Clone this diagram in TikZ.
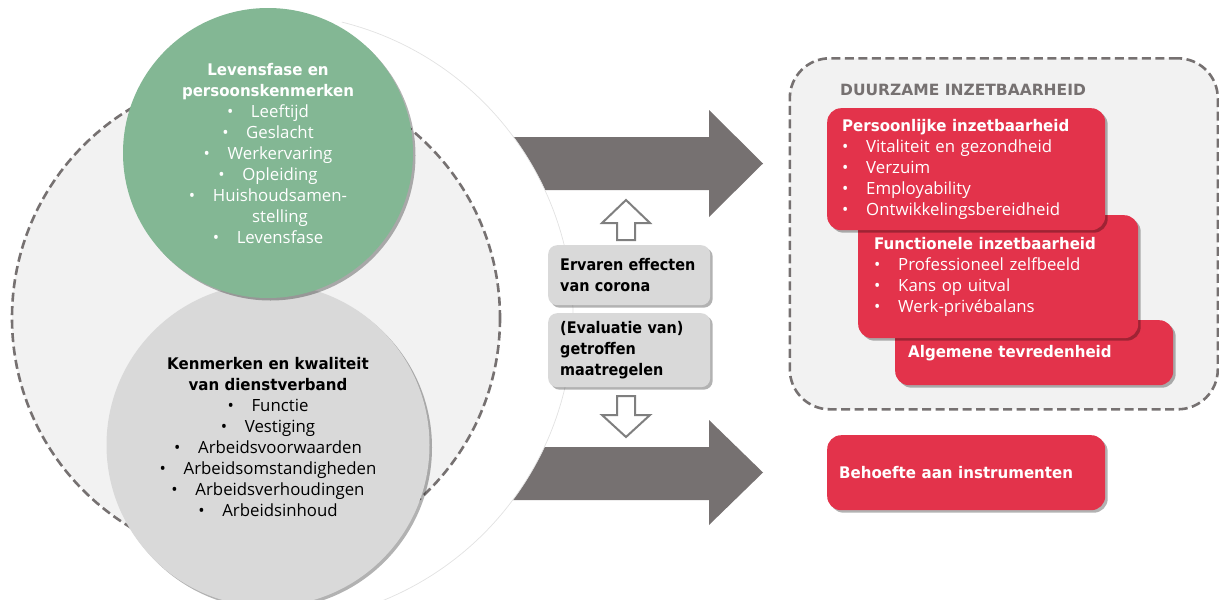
\documentclass[tikz,border=0pt]{standalone}
\usepackage{fontspec}
\setmainfont{Open Sans}
\newfontfamily\hfont{DejaVu Sans}[FakeStretch=0.94]
\newfontfamily\mfont{DejaVu Sans}[FakeStretch=0.9]
\newfontfamily\tfont{DejaVu Sans}
\usetikzlibrary{shadows}
\definecolor{arrowgray}{HTML}{767171}
\definecolor{dashgray}{HTML}{767171}
\definecolor{lightfill}{HTML}{F2F2F2}
\definecolor{midgray}{HTML}{D9D9D9}
\definecolor{greenc}{HTML}{83B794}
\definecolor{redc}{HTML}{E3334B}
\definecolor{faint}{HTML}{E2E2E2}
\definecolor{hollowgray}{HTML}{7F7F7F}
\definecolor{titlegray}{HTML}{767171}
\newcommand\itembul{\makebox[24pt][l]{\textbullet}}
\tikzset{
  softshadow/.style={drop shadow={opacity=0.3, shadow xshift=2.5pt, shadow yshift=-2.5pt, fill=black}},
  dashline/.style={draw=dashgray, line width=2.6pt, dash pattern=on 9pt off 4.5pt},
  bigarrow/.style={fill=arrowgray},
  hollowarrow/.style={draw=hollowgray, fill=white, line width=2pt, line join=miter},
  midbox/.style={fill=midgray, rounded corners=9pt, softshadow, anchor=north west,
    align=left, inner xsep=12pt, inner ysep=0pt, text width=138pt, minimum width=162pt,
    font=\fontsize{16}{21}\mfont\bfseries},
  redbox/.style={fill=redc, rounded corners=14pt, softshadow, anchor=north west,
    align=left, inner ysep=0pt, text=white, font=\fontsize{16.8}{21}\selectfont},
  itemtext/.style={align=center, inner sep=0pt, font=\fontsize{16.8}{21}\selectfont},
}
\begin{document}
\begin{tikzpicture}[x=1pt,y=-1pt]
\useasboundingbox (0,0) rectangle (1219,600);

% big grey arrows
\fill[bigarrow] (480,137) -- (709,137) -- (709,110) -- (763,163.5) -- (709,217) -- (709,190) -- (480,190) -- cycle;
\fill[bigarrow] (480,447) -- (709,447) -- (709,420) -- (763,472.5) -- (709,525) -- (709,500) -- (480,500) -- cycle;

% white backdrop circle (faint outline visible on its right side only)
\fill[white] (268,318) circle[radius=305];
\draw[draw=faint, line width=0.7pt] (268,318) ++(-76:305) arc[start angle=-76, end angle=76, radius=305];

% dashed circle
\draw[dashline, fill=lightfill] (256,318) circle[radius=244];

% grey circle
\node[circle, fill=midgray, minimum size=323pt, inner sep=0pt, softshadow] (gc) at (268,445) {};
\node[itemtext, text=black] (gctxt) at (268,437) {%
{\fontsize{16}{21}\hfont\bfseries Kenmerken en kwaliteit}\\
{\fontsize{16}{21}\hfont\bfseries van dienstverband}\\
\itembul Functie\\
\itembul Vestiging\\
\itembul Arbeidsvoorwaarden\\
\itembul Arbeidsomstandigheden\\
\itembul Arbeidsverhoudingen\\
\itembul Arbeidsinhoud};

% green circle
\node[circle, fill=greenc, minimum size=290pt, inner sep=0pt, softshadow] (gr) at (268,153) {};
\node[itemtext, text=white] (grtxt) at (268,153) {%
{\fontsize{16}{21}\hfont\bfseries Levensfase en}\\
{\fontsize{16}{21}\hfont\bfseries persoonskenmerken}\\
\itembul Leeftijd\\
\itembul Geslacht\\
\itembul Werkervaring\\
\itembul Opleiding\\
\itembul Huishoudsamen-\\
\hspace*{24pt}stelling\\
\itembul Levensfase};

% middle boxes
\node[midbox, minimum height=60pt] (eff) at (548,245) {Ervaren effecten\\van corona};
\node[midbox, minimum height=74pt] (maat) at (548,313) {(Evaluatie van)\\getroffen\\maatregelen};

% hollow arrows
\draw[hollowarrow] (617,240) -- (617,223) -- (602,223) -- (626,200) -- (650,223) -- (635,223) -- (635,240) -- cycle;
\draw[hollowarrow] (617,396) -- (635,396) -- (635,415) -- (650,415) -- (626,437) -- (602,415) -- (617,415) -- cycle;

% right dashed container
\node[dashline, fill=lightfill, rounded corners=40pt, anchor=north west, minimum width=428pt, minimum height=351pt, inner sep=0pt] (dur) at (788.5,57) {};
\node[anchor=base west, inner sep=0pt, text=titlegray, font=\fontsize{15.5}{18}\tfont\bfseries] (durt) at (840,95) {DUURZAME INZETBAARHEID};

% red boxes (back to front)
\node[redbox, inner xsep=13pt, text width=252pt, minimum width=278pt, minimum height=65pt] (alg) at (895,320) {%
{\fontsize{16}{21}\hfont\bfseries Algemene tevredenheid}};
\node[redbox, inner xsep=16pt, text width=248pt, minimum width=280pt, minimum height=123pt] (fun) at (858,215) {%
{\fontsize{16}{21}\hfont\bfseries Functionele inzetbaarheid}\\
\itembul Professioneel zelfbeeld\\
\itembul Kans op uitval\\
\itembul Werk-privébalans};
\node[redbox, inner xsep=15pt, text width=248pt, minimum width=278pt, minimum height=122pt] (per) at (827,108) {%
{\fontsize{16}{21}\hfont\bfseries Persoonlijke inzetbaarheid}\\
\itembul Vitaliteit en gezondheid\\
\itembul Verzuim\\
\itembul Employability\\
\itembul Ontwikkelingsbereidheid};

\node[redbox, inner xsep=12pt, text width=254pt, minimum width=278pt, minimum height=75pt] (beh) at (827,435) {%
{\fontsize{16}{21}\hfont\bfseries Behoefte aan instrumenten}};
\end{tikzpicture}
\end{document}
